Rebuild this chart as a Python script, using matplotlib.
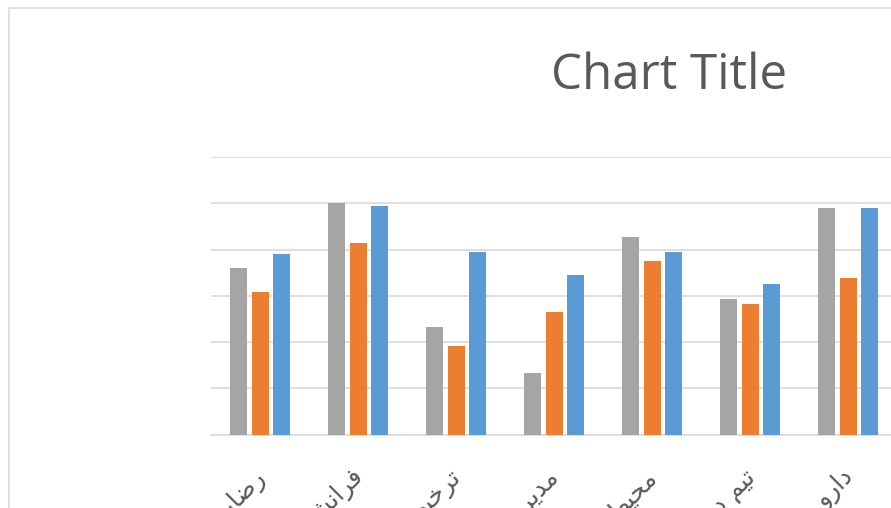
import matplotlib
matplotlib.use("Agg")
import matplotlib.pyplot as plt
from matplotlib.patches import Rectangle
import matplotlib.transforms as mtransforms
import numpy as np

# ---- data ----
categories = ["رضایت", "فرانشیز", "ترخیص", "مدیریت", "محیط", "تیم درمان", "دارو"]
series_gray = [3.60, 5.00, 2.32, 1.34, 4.28, 2.93, 4.90]
series_orange = [3.08, 4.13, 1.92, 2.65, 3.75, 2.83, 3.38]
series_blue = [3.90, 4.95, 3.95, 3.44, 3.95, 3.25, 4.90]
title_text = "Chart Title"

# ---- minimal Arabic/Persian shaping (presentation forms) ----
FORMS = {
    'ا': (0xFE8D, 0xFE8E, None, None),
    'د': (0xFEA9, 0xFEAA, None, None),
    'ذ': (0xFEAB, 0xFEAC, None, None),
    'ر': (0xFEAD, 0xFEAE, None, None),
    'ز': (0xFEAF, 0xFEB0, None, None),
    'و': (0xFEED, 0xFEEE, None, None),
    'ب': (0xFE8F, 0xFE90, 0xFE91, 0xFE92),
    'ت': (0xFE95, 0xFE96, 0xFE97, 0xFE98),
    'ج': (0xFE9D, 0xFE9E, 0xFE9F, 0xFEA0),
    'ح': (0xFEA1, 0xFEA2, 0xFEA3, 0xFEA4),
    'خ': (0xFEA5, 0xFEA6, 0xFEA7, 0xFEA8),
    'س': (0xFEB1, 0xFEB2, 0xFEB3, 0xFEB4),
    'ش': (0xFEB5, 0xFEB6, 0xFEB7, 0xFEB8),
    'ص': (0xFEB9, 0xFEBA, 0xFEBB, 0xFEBC),
    'ض': (0xFEBD, 0xFEBE, 0xFEBF, 0xFEC0),
    'ط': (0xFEC1, 0xFEC2, 0xFEC3, 0xFEC4),
    'ف': (0xFED1, 0xFED2, 0xFED3, 0xFED4),
    'م': (0xFEE1, 0xFEE2, 0xFEE3, 0xFEE4),
    'ن': (0xFEE5, 0xFEE6, 0xFEE7, 0xFEE8),
    'ه': (0xFEE9, 0xFEEA, 0xFEEB, 0xFEEC),
    'ی': (0xFBFC, 0xFBFD, 0xFBFE, 0xFBFF),
}


def joins_next(ch):
    f = FORMS.get(ch)
    return f is not None and f[2] is not None


def shape(word):
    out = []
    n = len(word)
    for i, ch in enumerate(word):
        f = FORMS.get(ch)
        if f is None:
            out.append(ch)
            continue
        prev_j = i > 0 and joins_next(word[i - 1])
        next_j = i < n - 1 and word[i + 1] in FORMS and joins_next(ch)
        if prev_j and next_j:
            cp = f[3]
        elif prev_j:
            cp = f[1]
        elif next_j:
            cp = f[2]
        else:
            cp = f[0]
        out.append(chr(cp))
    return "".join(out)[::-1]


def shape_phrase(p):
    return " ".join(shape(w) for w in p.split(" ")[::-1])


# ---- figure ----
W, H = 891, 508
fig = plt.figure(figsize=(W / 100, H / 100), dpi=100)
fig.patch.set_facecolor("white")

# outer chart frame (cropped)
fig.patches.append(Rectangle((8.5 / W, -0.1), 1.2, (H - 8.5) / H + 0.1,
                             transform=fig.transFigure, fill=False,
                             edgecolor="#D9D9D9", linewidth=1.2, zorder=0))

left_px, right_px, top_px, bottom_px = 211, 891, 157, 434.5
ax = fig.add_axes([left_px / W, (H - bottom_px) / H,
                   (right_px - left_px) / W, (bottom_px - top_px) / H])
ax.set_facecolor("none")

x = np.arange(len(categories))
spacing_px = 98.0
bw = 17.0 / spacing_px
off = 21.7 / spacing_px
ax.bar(x - off, series_gray, bw, color="#A5A5A5", zorder=3)
ax.bar(x, series_orange, bw, color="#ED7D31", zorder=3)
ax.bar(x + off, series_blue, bw, color="#5B9BD5", zorder=3)

ax.set_xlim(-0.5, -0.5 + (right_px - left_px) / spacing_px)
ax.set_ylim(0, 6)
ax.set_yticks(np.arange(0, 7, 1))
ax.yaxis.grid(True, color="#D9D9D9", linewidth=1.2, zorder=0)
ax.tick_params(axis="y", left=False, labelleft=False)
ax.tick_params(axis="x", bottom=False, pad=0)
for s in ["top", "right", "left"]:
    ax.spines[s].set_visible(False)
ax.spines["bottom"].set_color("#D9D9D9")
ax.spines["bottom"].set_linewidth(1.2)
ax.spines["bottom"].set_zorder(1)

ax.set_xticks(x)
ax.set_xticklabels([shape_phrase(c) for c in categories], rotation=45,
                   ha="right", va="top", rotation_mode="anchor",
                   fontsize=18, color="#595959", family="DejaVu Sans")
for lbl in ax.get_xticklabels():
    lbl.set_transform(lbl.get_transform() +
                      mtransforms.ScaledTranslation(-7 / 100, -26 / 100, fig.dpi_scale_trans))

fig.text(669.5 / W, 1 - 76 / H, title_text, ha="center", va="center",
         fontsize=35.5, color="#595959", family="Open Sans")

fig.savefig("out.png", dpi=100, facecolor="white")
